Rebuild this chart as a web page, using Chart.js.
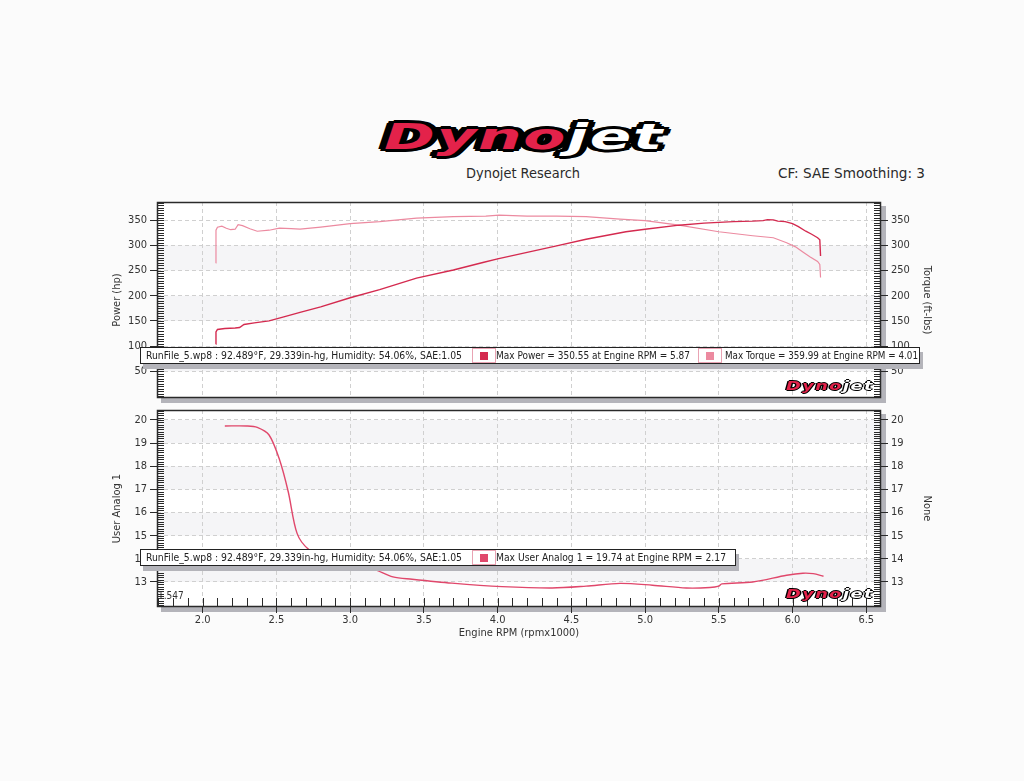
<!DOCTYPE html>
<html>
<head>
<meta charset="utf-8">
<script src="https://cdn.jsdelivr.net/npm/chart.js@4.4.1/dist/chart.umd.min.js"></script>
<style>
  body { margin: 0; background: #fbfbfb; }
  #page { position: relative; width: 1024px; height: 781px; overflow: hidden;
          font-family: 'DejaVu Sans Condensed', 'DejaVu Sans', sans-serif; color: #222; }
  .abs { position: absolute; white-space: nowrap; transform-origin: left top; }
  .hdr { font-size: 14px; line-height: 16px; color: #2a2a2a; }
  .logo { font-family: 'DejaVu Sans', sans-serif; font-weight: 900; font-style: italic; letter-spacing: 1px; }
  .logo .r { color: #e3224a; }
  .logo .w { color: #ffffff; }
  .big { font-size: 35px; line-height: 38px;
         text-shadow: -4px 0 #000, 4px 0 #000, 0 -3px #000, 0 3px #000, -3px -2px #000, 3px 2px #000, -3px 2px #000, 3px -2px #000; }
  .small { font-size: 12px; line-height: 14px;
           text-shadow: -1px 0 #000, 1px 0 #000, 0 -1px #000, 0 1px #000; }
  .legend { position: absolute; background: #fff; border: 1px solid #222; height: 15px;
            box-shadow: 3px 5px 0 #b4b4ba; font-size: 11px; line-height: 15px; }
  .legend .t { position: absolute; top: 0; white-space: nowrap; transform-origin: left top; }
  .sw { position: absolute; top: 0; width: 22px; height: 13px; border: 1px solid #e9a3b3; background: #fff; }
  .sw i { position: absolute; left: 7px; top: 3px; width: 8px; height: 8px; }
</style>
</head>
<body>
<div id="page">
  <div id="logoMain" class="abs logo big" style="left:384px; top:118px;"><span class="r">Dyno</span><span class="w">jet</span></div>
  <div id="hdr1" class="abs hdr" style="left:466px; top:165px;">Dynojet Research</div>
  <div id="hdr2" class="abs hdr" style="left:778px; top:165px;">CF: SAE Smoothing: 3</div>

  <canvas id="chart-top" class="abs" width="1024" height="225" style="left:0; top:190px;"></canvas>
  <canvas id="chart-bottom" class="abs" width="1024" height="245" style="left:0; top:400px;"></canvas>

  <div id="logoTop" class="abs logo small" style="left:786px; top:379px;"><span class="r">Dyno</span><span class="w">jet</span></div>
  <div id="logoBot" class="abs logo small" style="left:786px; top:587px;"><span class="r">Dyno</span><span class="w">jet</span></div>
  <div class="abs" style="left:158px; top:590px; font-size:10px; line-height:12px; color:#333;">1.547</div>

  <div class="legend" style="left:140px; top:347px; width:778px;">
    <span class="t fit" data-w="316" style="left:5px;">RunFile_5.wp8 : 92.489°F, 29.339in-hg, Humidity: 54.06%, SAE:1.05</span>
    <span class="sw" style="left:331px;"><i style="background:#d42a4f"></i></span>
    <span class="t fit" data-w="194" style="left:355px;">Max Power = 350.55 at Engine RPM = 5.87</span>
    <span class="sw" style="left:557px;"><i style="background:#ec8aa0"></i></span>
    <span class="t fit" data-w="193" style="left:584px;">Max Torque = 359.99 at Engine RPM = 4.01</span>
  </div>
  <div class="legend" style="left:140px; top:549px; width:594px;">
    <span class="t fit" data-w="316" style="left:5px;">RunFile_5.wp8 : 92.489°F, 29.339in-hg, Humidity: 54.06%, SAE:1.05</span>
    <span class="sw" style="left:331px;"><i style="background:#e0476b"></i></span>
    <span class="t fit" data-w="230" style="left:355px;">Max User Analog 1 = 19.74 at Engine RPM = 2.17</span>
  </div>
</div>

<script>
/* Dyno run: power/torque against engine rpm, plus user analog channel. */
var rpmTicks = [2.0, 2.5, 3.0, 3.5, 4.0, 4.5, 5.0, 5.5, 6.0, 6.5];
var powerTicks = [50, 100, 150, 200, 250, 300, 350];
var analogTicks = [13, 14, 15, 16, 17, 18, 19, 20];

var rpmPower = [2.088, 2.09, 2.10, 2.15, 2.22, 2.25, 2.28, 2.35, 2.45, 2.55, 2.66, 2.8, 3.0, 3.2, 3.45,
                3.7, 3.9, 4.0, 4.2, 4.4, 4.6, 4.87, 5.0, 5.23, 5.4, 5.6, 5.73, 5.8, 5.83, 5.87, 5.9,
                5.95, 6.0, 6.04, 6.09, 6.13, 6.17, 6.185, 6.19];
var powerHp = [104, 128, 133, 135, 136, 137, 143, 146, 150, 158, 167, 178, 196, 212, 235,
               251, 266, 273, 286, 299, 312, 327, 332, 340, 344, 347, 348, 349, 351, 350.5, 348,
               347, 343, 337, 328, 322, 315, 311, 279];

var rpmTorque = [2.088, 2.09, 2.10, 2.13, 2.16, 2.19, 2.22, 2.24, 2.27, 2.32, 2.37, 2.45, 2.52, 2.6, 2.66,
                 2.8, 3.0, 3.2, 3.45, 3.7, 3.92, 4.01, 4.2, 4.4, 4.6, 4.83, 5.0, 5.23, 5.5, 5.73, 5.87,
                 5.96, 6.02, 6.07, 6.12, 6.17, 6.185, 6.19];
var torqueFtLbs = [265, 330, 336, 338, 334, 331, 332, 341, 339, 333, 328, 330, 334, 333, 332,
                   336, 343, 347, 354, 357, 358, 360, 358, 358, 357, 352, 349, 340, 327, 319, 315,
                   305, 297, 287, 277, 268, 262, 236];

var rpmAnalog = [2.15, 2.3, 2.37, 2.45, 2.52, 2.58, 2.64, 2.72, 2.85, 3.02, 3.15, 3.29, 3.42, 3.69, 4.03,
                 4.37, 4.6, 4.83, 5.05, 5.28, 5.44, 5.5, 5.52, 5.73, 5.96, 6.07, 6.14, 6.21];
var userAnalog1 = [19.74, 19.74, 19.68, 19.35, 18.3, 16.9, 15.1, 14.4, 14.0, 13.72, 13.58, 13.22, 13.12, 12.95, 12.8,
                   12.74, 12.82, 12.94, 12.86, 12.74, 12.76, 12.82, 12.92, 13.0, 13.29, 13.38, 13.36, 13.25];

function pts(xs, ys) { return xs.map(function (x, i) { return { x: x, y: ys[i] }; }); }
function setTicks(list) { return function (s) { s.ticks = list.map(function (v) { return { value: v }; }); }; }

var FONT = { family: "'DejaVu Sans Condensed', 'DejaVu Sans', sans-serif", size: 11 };
var GRID = '#d0d0d0';
var INK = '#2a2a2a';

/* frame, drop shadow, alternating bands and the small inner ticks */
var plotDeco = {
  id: 'plotDeco',
  beforeDraw: function (chart, args, o) {
    var ctx = chart.ctx, a = chart.chartArea, y = chart.scales.y;
    ctx.save();
    ctx.fillStyle = '#b4b4ba';
    ctx.fillRect(a.left + 4, a.bottom, a.right - a.left, 5);
    ctx.fillRect(a.right, a.top + 4, 5, a.bottom - a.top + 1);
    ctx.fillStyle = '#ffffff';
    ctx.fillRect(a.left, a.top, a.right - a.left, a.bottom - a.top);
    ctx.fillStyle = '#f5f5f7';
    (o.bands || []).forEach(function (b) {
      var t = Math.max(y.getPixelForValue(b[1]), a.top);
      var btm = Math.min(y.getPixelForValue(b[0]), a.bottom);
      if (btm > t) ctx.fillRect(a.left, t, a.right - a.left, btm - t);
    });
    ctx.restore();
  },
  afterDraw: function (chart, args, o) {
    var ctx = chart.ctx, a = chart.chartArea, y = chart.scales.y, x = chart.scales.x;
    ctx.save();
    ctx.strokeStyle = INK;
    ctx.lineWidth = 1;
    ctx.beginPath();
    var i, p;
    for (i = Math.ceil(y.min / o.yStep); i * o.yStep <= y.max; i++) {
      p = Math.round(y.getPixelForValue(i * o.yStep)) + 0.5;
      ctx.moveTo(a.left, p); ctx.lineTo(a.left + 7, p);
      ctx.moveTo(a.right - 7, p); ctx.lineTo(a.right, p);
    }
    if (o.xStep) {
      for (i = Math.ceil(x.min / o.xStep); i * o.xStep <= x.max; i++) {
        p = Math.round(x.getPixelForValue(i * o.xStep)) + 0.5;
        ctx.moveTo(p, a.bottom); ctx.lineTo(p, a.bottom - 9);
      }
    }
    ctx.stroke();
    ctx.lineWidth = 1.5;
    ctx.strokeRect(a.left + 0.5, a.top + 0.5, a.right - a.left - 1, a.bottom - a.top - 1);
    ctx.restore();
  }
};

function yAxis(pos, min, max, ticks, title, width) {
  return {
    type: 'linear', position: pos, min: min, max: max,
    afterBuildTicks: setTicks(ticks),
    afterFit: function (s) { s.width = width; },
    ticks: { color: '#333', font: FONT, padding: 3 },
    grid: { color: GRID, tickColor: INK, tickLength: 7, drawOnChartArea: pos === 'left' },
    border: { display: false, dash: [4, 3] },
    title: { display: true, text: title, color: '#333', font: FONT, padding: 0 }
  };
}

function baseOpts(padding) {
  return {
    responsive: false, animation: false, devicePixelRatio: 1,
    layout: { padding: padding },
    plugins: { legend: { display: false }, tooltip: { enabled: false } },
    elements: { point: { radius: 0 } }
  };
}

Chart.register(plotDeco);

var topOpts = baseOpts({ left: 111, right: 91, top: 12, bottom: 17 });
topOpts.plugins.plotDeco = { bands: [[250, 300], [150, 200], [50, 100]], yStep: 5 };
topOpts.scales = {
  x: {
    type: 'linear', min: 1.69, max: 6.6,
    afterBuildTicks: setTicks(rpmTicks),
    afterFit: function (s) { s.height = 0; },
    ticks: { display: false },
    grid: { color: GRID, drawTicks: false },
    border: { display: false, dash: [4, 3] }
  },
  y: yAxis('left', -3, 386, powerTicks, 'Power (hp)', 46),
  y2: yAxis('right', -3, 386, powerTicks, 'Torque (ft-lbs)', 52)
};

new Chart(document.getElementById('chart-top'), {
  type: 'scatter',
  data: {
    datasets: [
      { label: 'Power', data: pts(rpmPower, powerHp), showLine: true, borderColor: '#d42a4f', borderWidth: 1.4, yAxisID: 'y' },
      { label: 'Torque', data: pts(rpmTorque, torqueFtLbs), showLine: true, borderColor: '#ec8aa0', borderWidth: 1.2, yAxisID: 'y2' }
    ]
  },
  options: topOpts
});

var botOpts = baseOpts({ left: 111, right: 91, top: 10, bottom: 5 });
botOpts.plugins.plotDeco = { bands: [[19, 20], [17, 18], [15, 16], [13, 14]], yStep: 0.1, xStep: 0.1 };
botOpts.scales = {
  x: {
    type: 'linear', min: 1.69, max: 6.6,
    afterBuildTicks: setTicks(rpmTicks),
    afterFit: function (s) { s.height = 33; },
    ticks: { color: '#333', font: FONT, padding: 1, maxRotation: 0, callback: function (v) { return v.toFixed(1); } },
    grid: { color: GRID, tickColor: INK, tickLength: 6 },
    border: { display: false, dash: [4, 3] },
    title: { display: true, text: 'Engine RPM (rpmx1000)', color: '#333', font: FONT, padding: 0 }
  },
  y: yAxis('left', 11.92, 20.43, analogTicks, 'User Analog 1', 46),
  y2: yAxis('right', 11.92, 20.43, analogTicks, 'None', 52)
};

new Chart(document.getElementById('chart-bottom'), {
  type: 'scatter',
  data: {
    datasets: [
      { label: 'User Analog 1', data: pts(rpmAnalog, userAnalog1), showLine: true, borderColor: '#e0476b', borderWidth: 1.4, tension: 0.3, yAxisID: 'y' }
    ]
  },
  options: botOpts
});

/* stretch/squeeze text to the widths seen on the print */
function fitWidth(el, w) {
  var r = w / el.getBoundingClientRect().width;
  el.style.transform = 'scaleX(' + r + ')';
}
document.querySelectorAll('.fit').forEach(function (el) { fitWidth(el, Number(el.getAttribute('data-w'))); });
fitWidth(document.getElementById('hdr1'), 114);
fitWidth(document.getElementById('hdr2'), 147);
fitWidth(document.getElementById('logoMain'), 280);
fitWidth(document.getElementById('logoTop'), 88);
fitWidth(document.getElementById('logoBot'), 88);
</script>
</body>
</html>
